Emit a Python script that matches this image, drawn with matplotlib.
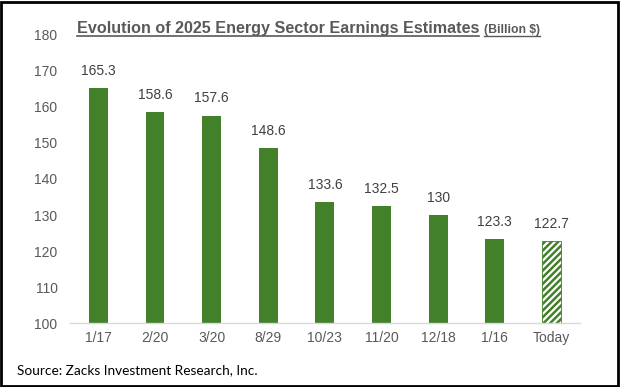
import matplotlib
matplotlib.use('Agg')
import matplotlib.pyplot as plt
from matplotlib.patches import Rectangle
from matplotlib.lines import Line2D

# Data
dates = ['1/17', '2/20', '3/20', '8/29', '10/23', '11/20', '12/18', '1/16', 'Today']
estimates = [165.3, 158.6, 157.6, 148.6, 133.6, 132.5, 130, 123.3, 122.7]
labels = ['165.3', '158.6', '157.6', '148.6', '133.6', '132.5', '130', '123.3', '122.7']

GREEN = '#42802A'
GRAY_TXT = '#595959'

plt.rcParams['font.family'] = ['Liberation Sans', 'DejaVu Sans']
plt.rcParams['hatch.color'] = GREEN
plt.rcParams['hatch.linewidth'] = 1.8

fig = plt.figure(figsize=(6.2, 3.87), dpi=100)
fig.patch.set_facecolor('white')
ax = fig.add_axes([0.113, 0.165, 0.822, 0.745])

x = list(range(len(dates)))
ax.bar(x[:-1], estimates[:-1], width=0.335, color=GREEN, zorder=2)
ax.bar(x[-1], estimates[-1], width=0.335, color='white', edgecolor=GREEN,
       hatch='/////', linewidth=0.6, zorder=2)

for xi, v, lab in zip(x, estimates, labels):
    ax.text(xi, v + 2.8, lab, ha='center', va='bottom', fontsize=10, color='#404040')

ax.set_xlim(-0.5, 8.5)
ax.set_ylim(100, 180)
ax.set_yticks(range(100, 181, 10))
ax.set_xticks(x)
ax.set_xticklabels(dates)
ax.tick_params(axis='both', length=0, labelsize=10, colors=GRAY_TXT)
ax.tick_params(axis='y', pad=9)
ax.tick_params(axis='x', pad=6)
for s in ['top', 'right', 'left']:
    ax.spines[s].set_visible(False)
ax.spines['bottom'].set_color('#D9D9D9')
ax.spines['bottom'].set_linewidth(1)

# Title, underlined
ty = 0.916
t1 = fig.text(0.124, ty, 'Evolution of 2025 Energy Sector Earnings Estimates',
              fontsize=11.6, fontweight='bold', color=GRAY_TXT, ha='left', va='baseline')
fig.canvas.draw()
r = fig.canvas.get_renderer()
bb1 = t1.get_window_extent(r)
x2 = (bb1.x1 + 5) / fig.bbox.width
t2 = fig.text(x2, ty, '(Billion $)', fontsize=8.8, fontweight='bold',
              color=GRAY_TXT, ha='left', va='baseline')
bb2 = t2.get_window_extent(r)
yline = ty - 3 / fig.bbox.height
fig.add_artist(Line2D([bb1.x0 / fig.bbox.width, bb1.x1 / fig.bbox.width], [yline, yline],
                      color=GRAY_TXT, linewidth=1.2, transform=fig.transFigure))
fig.add_artist(Line2D([bb2.x0 / fig.bbox.width, bb2.x1 / fig.bbox.width], [yline, yline],
                      color=GRAY_TXT, linewidth=1.0, transform=fig.transFigure))

fig.text(0.027, 0.044, 'Source: Zacks Investment Research, Inc.', fontsize=9.8,
         color='black', ha='left', va='center', family=['Lato', 'DejaVu Sans'])

# Outer border
fig.add_artist(Rectangle((0.002, 0.003), 0.995, 0.993, transform=fig.transFigure,
                         fill=False, edgecolor='black', linewidth=2))

fig.savefig('out.png', dpi=100, facecolor='white')
